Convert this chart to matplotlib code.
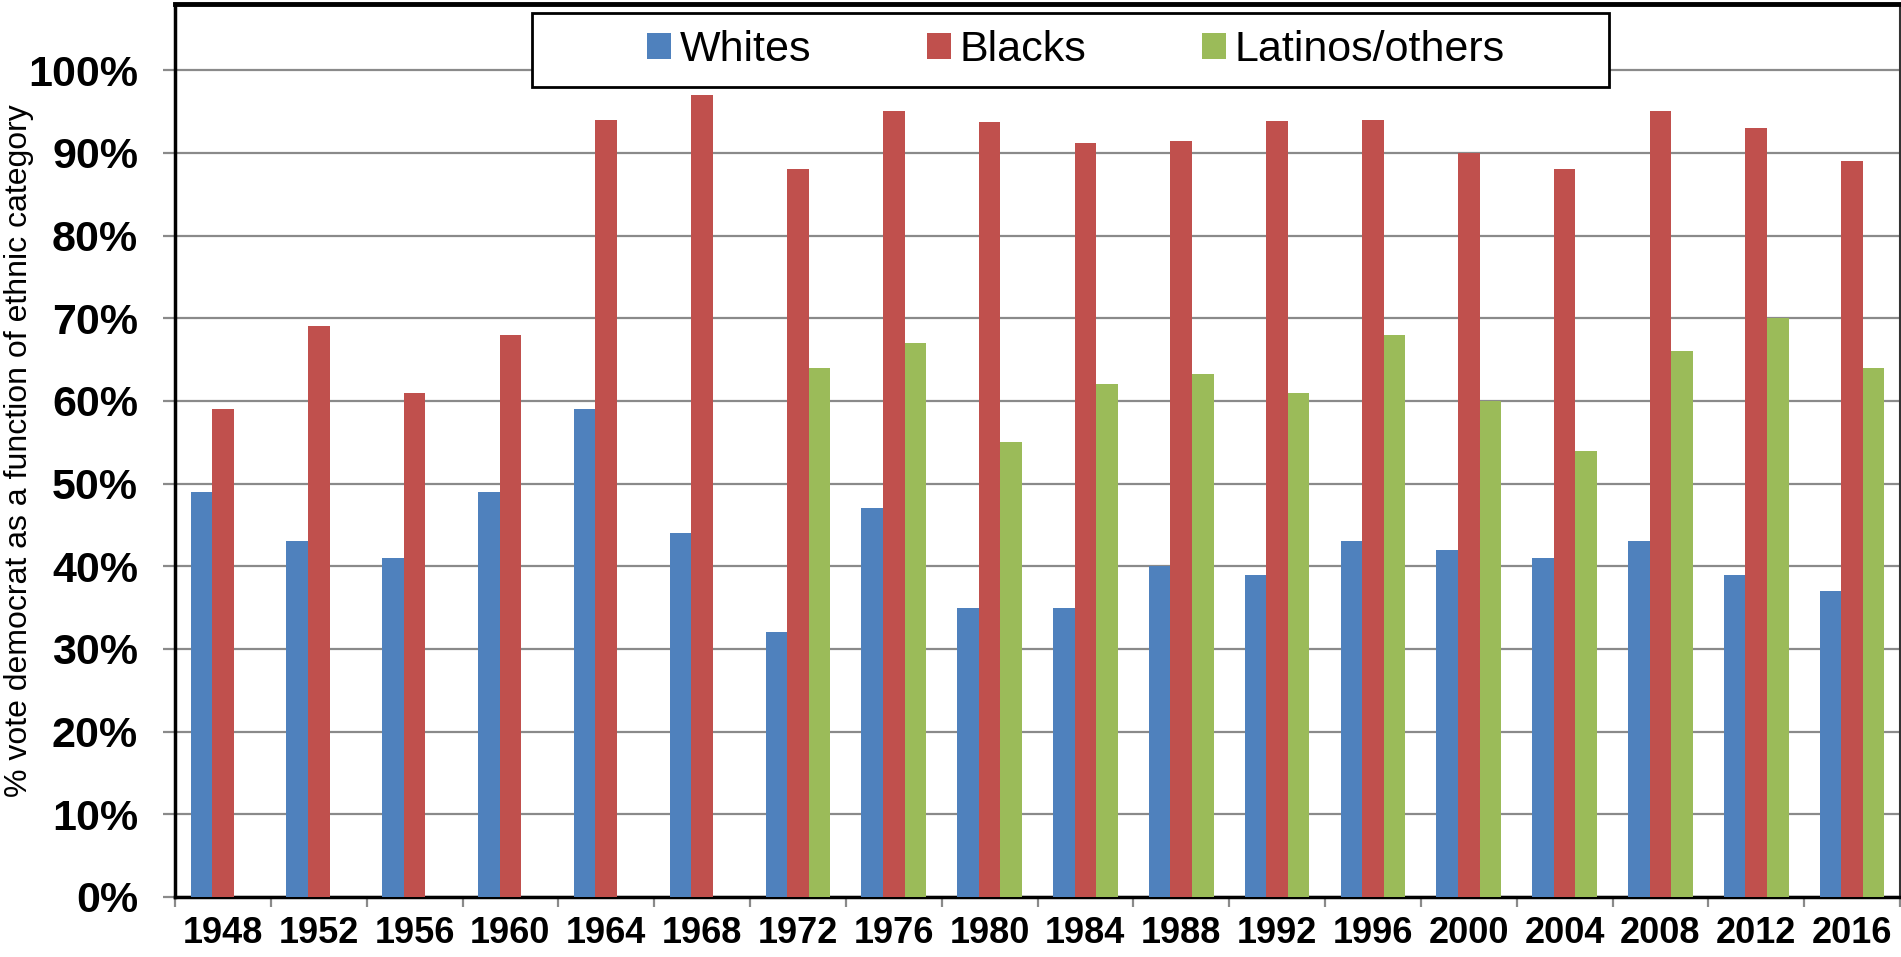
import numpy as np
import matplotlib
matplotlib.use('Agg')
import matplotlib.pyplot as plt
from matplotlib.patches import Rectangle, Patch
from matplotlib.ticker import FixedLocator, PercentFormatter

plt.rcParams['font.family'] = ['Liberation Sans', 'DejaVu Sans']

years = ['1948', '1952', '1956', '1960', '1964', '1968', '1972', '1976', '1980',
         '1984', '1988', '1992', '1996', '2000', '2004', '2008', '2012', '2016']

whites = [49, 43, 41, 49, 59, 44, 32, 47, 35, 35, 40, 39, 43, 42, 41, 43, 39, 37]
blacks = [59, 69, 61, 68, 94, 97, 88, 95, 93.7, 91.2, 91.4, 93.8, 94, 90, 88, 95, 93, 89]
latinos = [None, None, None, None, None, None, 64, 67, 55, 62, 63.3, 61, 68, 60, 54, 66, 70, 64]

series_names = ['Whites', 'Blacks', 'Latinos/others']
colors = ['#4F81BD', '#C0504D', '#9BBB59']

fig = plt.figure(figsize=(19.01, 9.57), dpi=100)
ax = fig.add_axes([175 / 1901, 1 - 897 / 957, 1725 / 1901, 893 / 957])

x = np.arange(len(years)) + 0.5
w = 0.225
for k, vals in enumerate([whites, blacks, latinos]):
    h = np.array([np.nan if v is None else v for v in vals], dtype=float)
    ax.bar(x + (k - 1) * w, h, width=w, color=colors[k], zorder=3)

ax.set_xlim(0, len(years))
ax.set_ylim(0, 108)

# y axis
ax.set_yticks(np.arange(0, 101, 10))
ax.yaxis.set_major_formatter(PercentFormatter(decimals=0))
ax.grid(axis='y', color='#8a8a8a', linewidth=1.6, zorder=0)
ax.tick_params(axis='y', which='major', length=8.6, width=1.6, color='#8a8a8a',
               pad=18, labelsize=31)
for t in ax.get_yticklabels():
    t.set_fontweight('bold')

# x axis: labels at centres, tick marks at boundaries
ax.set_xticks(x)
ax.set_xticklabels(years, fontsize=26, fontweight='bold')
ax.tick_params(axis='x', which='major', length=0, pad=14)
ax.xaxis.set_minor_locator(FixedLocator(np.arange(0, len(years) + 1)))
ax.tick_params(axis='x', which='minor', length=7.5, width=1.6, color='#8a8a8a')

for side in ['left', 'bottom']:
    ax.spines[side].set_color('black')
    ax.spines[side].set_linewidth(2.5)
ax.spines['top'].set_color('black')
ax.spines['top'].set_linewidth(3.5)
ax.spines['right'].set_color('#333333')
ax.spines['right'].set_linewidth(1.5)

fig.text(19 / 1901, 1 - 451 / 957, '% vote democrat as a function of ethnic category',
         rotation=90, ha='center', va='center', fontsize=23)

# legend with a wide box behind it
box = Rectangle((532 / 1901, 1 - 87 / 957), 1077 / 1901, 74 / 957,
                transform=fig.transFigure, facecolor='white', edgecolor='black',
                linewidth=2, zorder=4)
fig.add_artist(box)
handles = [Patch(facecolor=c) for c in colors]
leg = fig.legend(handles, series_names, loc='center',
                 bbox_to_anchor=(1076 / 1901, 1 - 50 / 957), bbox_transform=fig.transFigure,
                 ncol=3, frameon=False, fontsize=31, borderpad=0,
                 handlelength=0.55, handleheight=0.55, handletextpad=0.2,
                 columnspacing=2.7)
leg.set_zorder(5)

fig.savefig('out.png', dpi=100)
